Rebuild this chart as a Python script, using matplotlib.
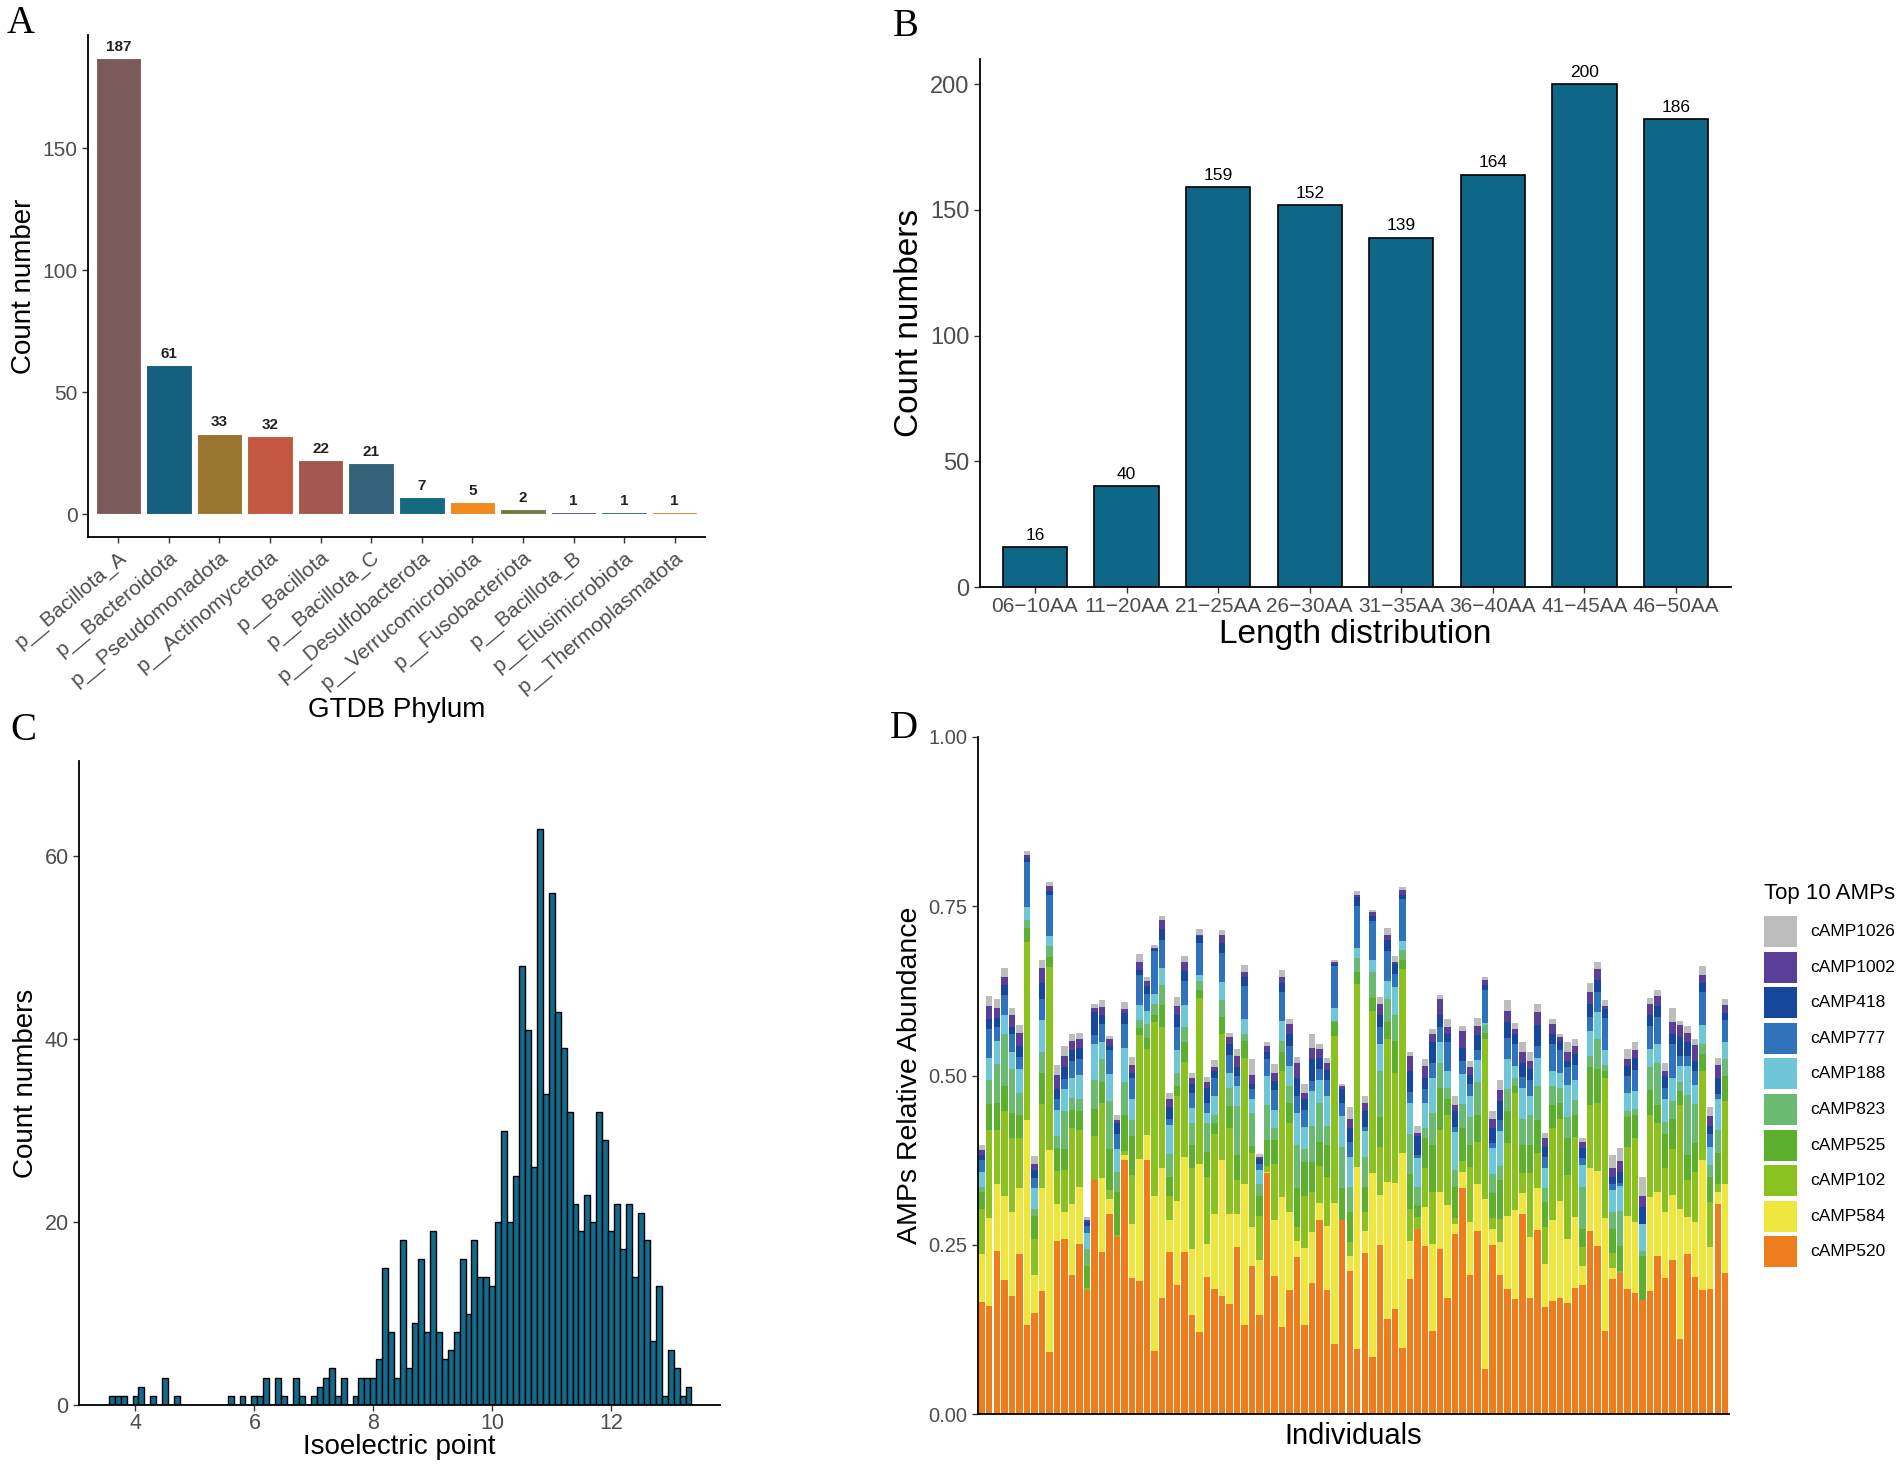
import numpy as np
import matplotlib
matplotlib.use('Agg')
import matplotlib.pyplot as plt
from matplotlib.patches import Rectangle

plt.rcParams['font.family'] = 'Liberation Sans'

# ---------------- data ----------------
# A: GTDB phylum counts
phyla = ['p__Bacillota_A', 'p__Bacteroidota', 'p__Pseudomonadota', 'p__Actinomycetota',
         'p__Bacillota', 'p__Bacillota_C', 'p__Desulfobacterota', 'p__Verrucomicrobiota',
         'p__Fusobacteriota', 'p__Bacillota_B', 'p__Elusimicrobiota', 'p__Thermoplasmatota']
phyla_counts = [187, 61, 33, 32, 22, 21, 7, 5, 2, 1, 1, 1]
phyla_colors = ['#7B5A5A', '#16607F', '#9A7530', '#C4573F', '#A3574F', '#33627A',
                '#146A7E', '#F08A1E', '#6E7D3E', '#4F4E6E', '#276C68', '#E57B1D']

# B: length distribution
length_bins = ['06\u221210AA', '11\u221220AA', '21\u221225AA', '26\u221230AA',
               '31\u221235AA', '36\u221240AA', '41\u221245AA', '46\u221250AA']
length_counts = [16, 40, 159, 152, 139, 164, 200, 186]

# C: isoelectric point histogram (bin width 0.1, first bin centre 3.6)
pi_first = 3.6
pi_counts = [1, 1, 1, 0, 1, 2, 0, 1, 0, 3, 0, 1,
             0, 0, 0, 0, 0, 0, 0, 0, 1, 0, 1, 0,
             1, 1, 3, 0, 3, 1, 0, 3, 1, 0,
             1, 2, 3, 4, 1, 3, 0, 1, 3, 3,
             3, 5, 15, 8, 3, 18, 4, 9, 16, 8,
             19, 8, 5, 6, 8, 16, 10, 18, 14, 14,
             13, 20, 30, 20, 25, 48, 41, 26, 63, 34,
             56, 43, 39, 32, 22, 19, 23, 20, 32, 29,
             19, 22, 17, 22, 14, 21, 18, 7, 13, 1,
             6, 4, 1, 2]

# D: cumulative relative abundance (top of each stacked layer) for 100 individuals
amp_names = ['cAMP520', 'cAMP584', 'cAMP102', 'cAMP525', 'cAMP823',
             'cAMP188', 'cAMP777', 'cAMP418', 'cAMP1002', 'cAMP1026']
amp_colors = ['#EE7D1E', '#EEE63C', '#8CC21F', '#5DB02E', '#6BBA72',
              '#6FC6D6', '#2E73BC', '#17479C', '#5A3F98', '#BDBDBD']

cum_520 = [.165, .159, .241, .198, .175, .237, .131, .149, .181, .092,
           .255, .258, .205, .251, .183, .346, .24, .296, .262, .375,
           .201, .196, .375, .093, .172, .24, .191, .24, .146, .121,
           .203, .184, .175, .163, .246, .132, .219, .146, .356, .204,
           .128, .183, .232, .132, .194, .287, .183, .103, .286, .211,
           .096, .238, .084, .249, .141, .155, .098, .2, .274, .248,
           .122, .244, .172, .266, .334, .205, .271, .066, .249, .205,
           .185, .17, .296, .171, .272, .158, .167, .172, .164, .186,
           .19, .271, .248, .122, .2, .208, .185, .178, .169, .182,
           .234, .201, .227, .111, .237, .202, .183, .185, .31, .209]
cum_584 = [.237, .289, .339, .322, .298, .334, .435, .206, .334, .39,
           .31, .299, .31, .336, .183, .346, .348, .318, .262, .383,
           .281, .376, .412, .322, .364, .286, .315, .379, .244, .369,
           .251, .295, .375, .295, .295, .339, .276, .227, .357, .287,
           .321, .299, .256, .245, .269, .311, .278, .311, .286, .233,
           .365, .27, .356, .324, .342, .341, .385, .256, .274, .306,
           .251, .328, .309, .281, .358, .284, .339, .317, .273, .254,
           .293, .302, .326, .262, .334, .222, .287, .315, .259, .291,
           .219, .364, .359, .289, .216, .208, .293, .284, .169, .32,
           .328, .298, .324, .303, .291, .284, .375, .247, .328, .339]
cum_102 = [.303, .419, .42, .447, .408, .408, .697, .259, .458, .66,
           .359, .361, .422, .419, .186, .41, .459, .331, .265, .389,
           .353, .56, .539, .579, .571, .322, .47, .52, .364, .615,
           .35, .413, .562, .422, .346, .526, .386, .292, .367, .369,
           .507, .43, .276, .322, .328, .367, .35, .558, .287, .254,
           .635, .298, .596, .394, .554, .503, .657, .303, .291, .364,
           .328, .419, .441, .289, .374, .365, .402, .554, .289, .288,
           .4, .474, .356, .356, .386, .276, .422, .436, .353, .409,
           .247, .456, .46, .496, .238, .211, .394, .408, .169, .441,
           .43, .364, .391, .456, .345, .358, .506, .313, .339, .462]
cum_525 = [.328, .458, .459, .485, .444, .441, .718, .292, .503, .675,
           .393, .391, .449, .448, .218, .45, .49, .391, .328, .442,
           .411, .57, .555, .59, .604, .35, .485, .55, .397, .626,
           .387, .43, .587, .455, .383, .551, .396, .322, .404, .405,
           .535, .46, .334, .372, .372, .402, .397, .579, .334, .298,
           .653, .336, .615, .438, .579, .551, .671, .354, .309, .408,
           .397, .482, .466, .336, .422, .397, .441, .563, .326, .345,
           .447, .485, .397, .397, .434, .313, .456, .459, .408, .442,
           .273, .512, .51, .507, .273, .248, .438, .441, .233, .478,
           .456, .413, .436, .477, .383, .401, .532, .35, .386, .499]
cum_823 = [.335, .493, .517, .561, .51, .474, .73, .303, .534, .692,
           .411, .448, .467, .466, .244, .493, .524, .463, .358, .491,
           .435, .582, .576, .605, .634, .384, .503, .571, .43, .639,
           .43, .441, .612, .481, .455, .562, .444, .339, .456, .422,
           .551, .485, .398, .391, .426, .459, .426, .58, .394, .336,
           .674, .38, .653, .506, .613, .59, .685, .413, .336, .423,
           .444, .518, .482, .361, .458, .438, .491, .574, .354, .367,
           .48, .496, .436, .441, .485, .334, .484, .481, .438, .464,
           .336, .529, .554, .515, .299, .3, .447, .451, .241, .512,
           .519, .431, .463, .491, .471, .458, .547, .368, .419, .524]
cum_188 = [.358, .526, .551, .59, .535, .51, .749, .334, .582, .706,
           .449, .48, .496, .501, .267, .547, .549, .502, .391, .54,
           .466, .604, .595, .62, .659, .427, .537, .604, .452, .649,
           .445, .469, .638, .504, .485, .584, .466, .361, .499, .449,
           .58, .514, .444, .424, .477, .493, .469, .599, .44, .38,
           .689, .418, .67, .546, .639, .631, .699, .46, .378, .46,
           .496, .55, .507, .416, .502, .469, .523, .577, .393, .418,
           .525, .514, .482, .47, .526, .363, .507, .504, .486, .493,
           .368, .565, .594, .537, .331, .337, .474, .477, .281, .539,
           .547, .466, .497, .514, .514, .486, .574, .394, .466, .549]
cum_777 = [.375, .568, .572, .619, .562, .528, .815, .348, .613, .767,
           .466, .495, .521, .524, .278, .56, .576, .537, .413, .576,
           .496, .649, .62, .684, .7, .436, .571, .64, .474, .695,
           .46, .496, .681, .53, .499, .632, .48, .369, .524, .478,
           .623, .543, .469, .449, .492, .51, .493, .662, .46, .402,
           .751, .424, .728, .571, .684, .65, .761, .475, .383, .48,
           .518, .571, .549, .424, .521, .488, .537, .626, .4, .434,
           .556, .546, .498, .494, .543, .379, .547, .537, .512, .515,
           .378, .587, .624, .585, .339, .341, .499, .508, .281, .573,
           .587, .482, .546, .529, .529, .506, .623, .413, .473, .582]
cum_418 = [.383, .584, .585, .634, .571, .544, .821, .361, .637, .773,
           .48, .513, .537, .541, .283, .594, .59, .543, .43, .593,
           .504, .656, .632, .687, .717, .453, .59, .655, .488, .706,
           .482, .507, .696, .546, .513, .646, .488, .376, .535, .492,
           .637, .562, .496, .466, .524, .526, .508, .664, .48, .422,
           .764, .447, .736, .59, .7, .664, .766, .507, .411, .496,
           .549, .59, .562, .447, .54, .501, .56, .634, .423, .463,
           .579, .561, .519, .509, .574, .394, .562, .551, .521, .532,
           .393, .606, .641, .598, .35, .358, .514, .526, .306, .59,
           .602, .499, .562, .557, .549, .521, .637, .426, .496, .593]
cum_1002 = [.39, .603, .6, .645, .589, .563, .826, .37, .659, .78,
            .501, .529, .551, .554, .287, .6, .601, .554, .434, .598,
            .515, .667, .64, .689, .729, .466, .603, .668, .496, .708,
            .491, .512, .707, .557, .529, .653, .501, .38, .543, .504,
            .646, .576, .519, .474, .541, .539, .518, .667, .484, .436,
            .767, .46, .741, .605, .708, .667, .774, .529, .415, .514,
            .562, .613, .571, .456, .566, .512, .573, .641, .436, .479,
            .595, .568, .535, .521, .594, .408, .576, .557, .534, .543,
            .402, .623, .657, .602, .363, .374, .524, .537, .322, .605,
            .618, .507, .579, .575, .563, .545, .649, .44, .515, .604]
cum_1026 = [.398, .617, .613, .659, .6, .574, .831, .381, .671, .786,
            .515, .543, .561, .563, .291, .606, .612, .558, .442, .609,
            .528, .679, .645, .693, .736, .474, .616, .677, .503, .716,
            .498, .523, .715, .563, .539, .663, .525, .384, .549, .517,
            .656, .584, .528, .488, .562, .547, .526, .67, .488, .453,
            .773, .47, .745, .616, .718, .676, .779, .535, .426, .525,
            .569, .619, .584, .469, .573, .521, .585, .646, .448, .493,
            .612, .578, .55, .535, .605, .415, .584, .561, .549, .554,
            .408, .637, .668, .611, .383, .393, .539, .549, .35, .615,
            .627, .518, .6, .58, .573, .554, .662, .453, .526, .613]

FIG_W, FIG_H = 1902, 1472
TICK_GREY = '#4D4D4D'


def px_axes(fig, left, top, right, bottom):
    # axes box given in pixel coords of the original image
    return fig.add_axes([left / FIG_W, 1 - bottom / FIG_H,
                         (right - left) / FIG_W, (bottom - top) / FIG_H])


def classic(ax, labelsize=15):
    for s in ['top', 'right']:
        ax.spines[s].set_visible(False)
    for s in ['left', 'bottom']:
        ax.spines[s].set_linewidth(1.3)
        ax.spines[s].set_color('black')
    ax.tick_params(length=4, width=1.0, color='#333333',
                   labelcolor=TICK_GREY, labelsize=labelsize)


fig = plt.figure(figsize=(FIG_W / 100, FIG_H / 100), dpi=100)

# ---------------- A ----------------
axA = px_axes(fig, 88, 35, 705, 537)
xa = np.arange(len(phyla))
axA.bar(xa, phyla_counts, width=0.9, color=phyla_colors, edgecolor='white', linewidth=0.8)
for x, v in zip(xa, phyla_counts):
    axA.annotate(str(v), (x, v), xytext=(0, 3), textcoords='offset points',
                 ha='center', va='bottom', fontsize=11, fontweight='bold', color='#222222')
axA.set_xlim(-0.6, len(phyla) - 0.4)
axA.set_ylim(-9.35, 196.35)
axA.set_yticks([0, 50, 100, 150])
axA.set_xticks(xa)
axA.set_xticklabels(phyla, rotation=40, ha='right', va='top', rotation_mode='anchor')
classic(axA, 15)
axA.set_ylabel('Count number', fontsize=20)
axA.set_xlabel('GTDB Phylum', fontsize=20, labelpad=0)

# ---------------- B ----------------
axB = px_axes(fig, 980, 59, 1731, 587)
xb = np.arange(len(length_bins))
axB.bar(xb, length_counts, width=0.7, color='#0F6787', edgecolor='black', linewidth=1.2)
for x, v in zip(xb, length_counts):
    axB.annotate(str(v), (x, v), xytext=(0, 3), textcoords='offset points',
                 ha='center', va='bottom', fontsize=12.5, color='black')
axB.set_xlim(-0.6, len(length_bins) - 0.4)
axB.set_ylim(0, 210)
axB.set_yticks([0, 50, 100, 150, 200])
axB.set_xticks(xb)
axB.set_xticklabels(length_bins)
classic(axB, 15)
axB.tick_params(axis='y', labelsize=17)
axB.set_ylabel('Count numbers', fontsize=24)
axB.set_xlabel('Length distribution', fontsize=24, labelpad=2)

# ---------------- C ----------------
axC = px_axes(fig, 79, 761, 720, 1405)
pi_centres = pi_first + 0.1 * np.arange(len(pi_counts))
axC.bar(pi_centres, pi_counts, width=0.1, color='#136A8B', edgecolor='black', linewidth=1.0)
axC.set_xlim(3.05, 13.83)
axC.set_ylim(0, 70.4)
axC.set_xticks([4, 6, 8, 10, 12])
axC.set_yticks([0, 20, 40, 60])
classic(axC, 15.5)
axC.tick_params(axis='x', pad=2)
axC.set_ylabel('Count numbers', fontsize=20)
axC.set_xlabel('Isoelectric point', fontsize=20, labelpad=0)

# ---------------- D ----------------
axD = px_axes(fig, 978, 737, 1729, 1414)
layers = [cum_520, cum_584, cum_102, cum_525, cum_823,
          cum_188, cum_777, cum_418, cum_1002, cum_1026]
xd = np.arange(len(cum_520))
prev = np.zeros(len(xd))
for top, col in zip(layers, amp_colors):
    top = np.array(top)
    axD.bar(xd, top - prev, bottom=prev, width=0.86, color=col, linewidth=0)
    prev = top
axD.set_xlim(-0.5, len(xd) - 0.5)
axD.set_ylim(0, 1)
axD.set_yticks([0, 0.25, 0.5, 0.75, 1.0])
axD.set_yticklabels(['0.00', '0.25', '0.50', '0.75', '1.00'])
axD.set_xticks([])
classic(axD, 14.5)
axD.set_ylabel('AMPs Relative Abundance', fontsize=20.5)
axD.set_xlabel('Individuals', fontsize=21, labelpad=6)

# legend for D, drawn by hand in pixel coords
fig.text(1764 / FIG_W, 1 - 893 / FIG_H, 'Top 10 AMPs', fontsize=16,
         ha='left', va='center')
for i, (name, col) in enumerate(zip(amp_names[::-1], amp_colors[::-1])):
    y_top = 916 + 35.6 * i
    fig.add_artist(Rectangle((1764 / FIG_W, 1 - (y_top + 31) / FIG_H), 33 / FIG_W, 31 / FIG_H,
                             transform=fig.transFigure, facecolor=col, edgecolor='none'))
    fig.text(1810 / FIG_W, 1 - (y_top + 15.5) / FIG_H, name, fontsize=12.5,
             ha='left', va='center')

# panel letters
for letter, (px, py) in zip('ABCD', [(7, 5), (893, 8), (10, 712), (890, 710)]):
    fig.text(px / FIG_W, 1 - py / FIG_H, letter, fontsize=28,
             family='Liberation Serif', ha='left', va='top')

fig.savefig('out.png', dpi=100)
